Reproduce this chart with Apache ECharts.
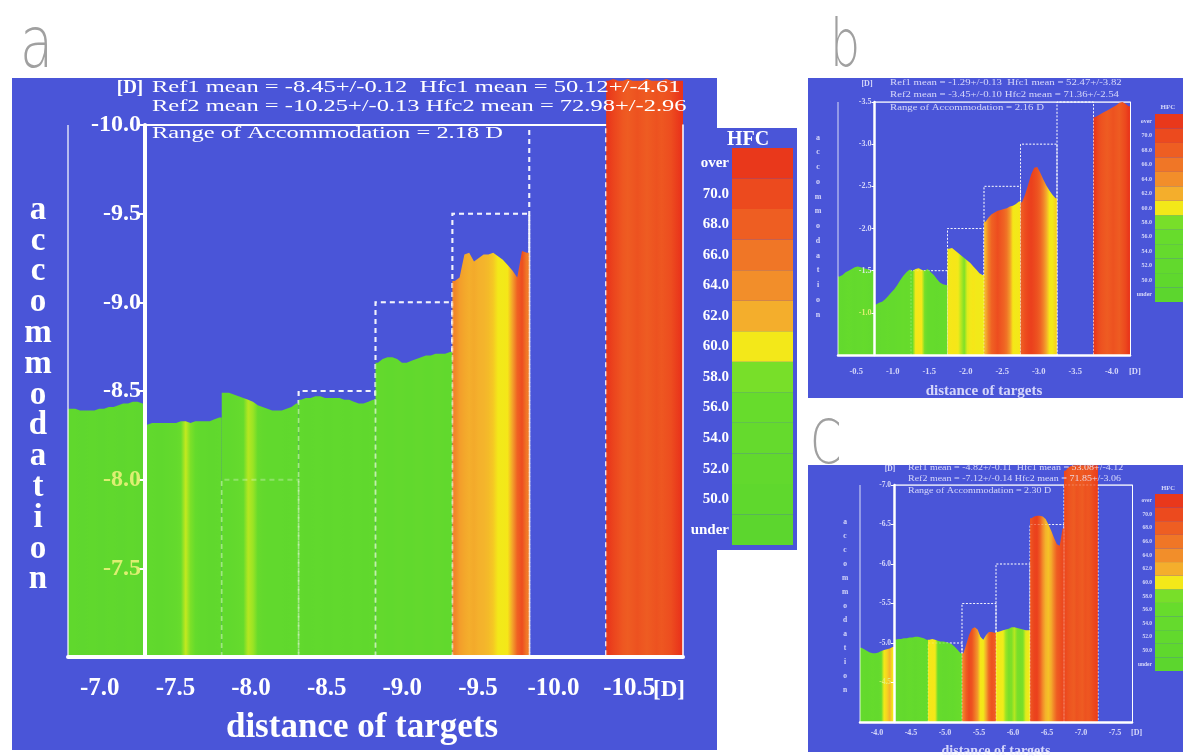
<!DOCTYPE html>
<html><head><meta charset="utf-8">
<script src="https://cdn.jsdelivr.net/npm/echarts@6/dist/echarts.min.js"></script>
<style>html,body{margin:0;padding:0;background:#fff}#c{width:1183px;height:756px}</style>
</head><body><div id="c"></div><script>
// ---------------- DATA ----------------
const targetsA = ['-7.0','-7.5','-8.0','-8.5','-9.0','-9.5','-10.0','-10.5'];
const targetsB = ['-0.5','-1.0','-1.5','-2.0','-2.5','-3.0','-3.5','-4.0'];
const targetsC = ['-4.0','-4.5','-5.0','-5.5','-6.0','-6.5','-7.0','-7.5'];
const rangeA = [-10, -7];
const rangeB = [-3.5, -0.5];
const rangeC = [-7, -4];
const stepSegs = [2, 3, 4, 5, 6];

const accA = [
 [-8.40,-8.40,-8.39,-8.39,-8.39,-8.39,-8.40,-8.40,-8.41,-8.41,-8.42,-8.43,-8.43,-8.44,-8.44,-8.43],
 [-8.31,-8.32,-8.32,-8.32,-8.32,-8.32,-8.32,-8.33,-8.33,-8.32,-8.33,-8.33,-8.33,-8.33,-8.34,-8.35],
 [-8.49,-8.49,-8.48,-8.47,-8.46,-8.45,-8.44,-8.42,-8.41,-8.40,-8.39,-8.39,-8.39,-8.40,-8.41,-8.43],
 [-8.45,-8.46,-8.46,-8.47,-8.47,-8.46,-8.46,-8.46,-8.46,-8.45,-8.45,-8.44,-8.43,-8.43,-8.44,-8.45],
 [-8.66,-8.68,-8.69,-8.69,-8.68,-8.66,-8.66,-8.67,-8.68,-8.69,-8.70,-8.70,-8.71,-8.71,-8.71,-8.72],
 [-9.12,-9.14,-9.27,-9.28,-9.23,-9.25,-9.27,-9.27,-9.28,-9.26,-9.24,-9.21,-9.18,-9.14,-9.29,-9.28],
 [],
 [-10.25,-10.26,-10.25,-10.25,-10.26,-10.25,-10.25,-10.25,-10.26,-10.25,-10.25,-10.25,-10.26,-10.25,-10.25,-10.25]
];
const hfcA = [
 [51,51,50,50,51,51,50,50,51,51,50,50,51,51,50,50],
 [52,52,51,51,52,53,54,57,59.3,58.6,55,52,52,51,51,52],
 [52,52,53,54,56,59.2,59.0,56,53,52,52,52,52,51,52,52],
 [52,51,51,52,52,51,51,52,52,51,51,52,52,51,51,52],
 [53,53,52,52,53,53,52,52,53,53,52,52,53,53,52,52],
 [65.5,63.8,63.2,62.8,63,62.6,62.4,62.2,61.8,60.6,60.4,60.8,63.5,68.5,70.5,66.5],
 [],
 [73,71.5,70.5,69.5,69,69.5,70,69.5,69,69.5,70,69.5,70,70.5,72,73.5]
];
const accB = [
 [-1.43,-1.45,-1.48,-1.50,-1.52,-1.54,-1.55,-1.54,-1.53,-1.52,-1.51,-1.50],
 [-1.10,-1.12,-1.13,-1.16,-1.20,-1.24,-1.28,-1.33,-1.39,-1.44,-1.48,-1.51],
 [-1.50,-1.52,-1.53,-1.51,-1.50,-1.52,-1.48,-1.45,-1.40,-1.36,-1.34,-1.33],
 [-1.76,-1.77,-1.74,-1.71,-1.68,-1.65,-1.62,-1.59,-1.55,-1.51,-1.47,-1.45],
 [-2.08,-2.13,-2.17,-2.19,-2.21,-2.22,-2.23,-2.24,-2.26,-2.27,-2.29,-2.32],
 [-2.31,-2.40,-2.52,-2.64,-2.72,-2.73,-2.66,-2.58,-2.51,-2.45,-2.40,-2.36],
 [],
 [-3.32,-3.34,-3.36,-3.38,-3.40,-3.42,-3.44,-3.46,-3.49,-3.50,-3.48,-3.45]
];
const hfcB = [
 [54,53,54,55,54,53,54,54,55,54,53,54],
 [53,53,54,54,55,54,54,55,55,56,55,56],
 [56,60.5,61,60.5,58,56,55,55,54,55,55,56],
 [60.5,61,61,60.5,59.2,58.8,59.5,60.5,61,60.5,60.5,60],
 [62.5,66,68.5,69.5,70.5,69.5,68.5,67,64,61,60.5,61],
 [69,70.5,71.5,72,71,70,68.5,66,63,61,60.5,61.5],
 [],
 [73,71,70,69.5,69,69.5,70,69.5,69,70,71,73]
];
const accC = [
 [-4.94,-4.92,-4.90,-4.88,-4.87,-4.87,-4.88,-4.90,-4.91,-4.92,-4.93,-4.95],
 [-5.04,-5.05,-5.05,-5.06,-5.06,-5.07,-5.07,-5.08,-5.08,-5.07,-5.06,-5.04],
 [-5.04,-5.05,-5.04,-5.03,-5.02,-5.02,-5.01,-5.00,-4.98,-4.95,-4.91,-4.87],
 [-4.87,-4.98,-5.10,-5.18,-5.20,-5.17,-5.08,-5.04,-5.10,-5.14,-5.14,-5.13],
 [-5.14,-5.15,-5.16,-5.17,-5.18,-5.20,-5.20,-5.19,-5.18,-5.17,-5.16,-5.16],
 [-6.58,-6.60,-6.61,-6.61,-6.60,-6.57,-6.50,-6.42,-6.33,-6.25,-6.23,-6.45],
 [-7.18,-7.22,-7.24,-7.25,-7.25,-7.25,-7.25,-7.25,-7.25,-7.25,-7.25,-7.25],
 []
];
const hfcC = [
 [54,54,53,54,55,54,54,56,60.5,61.5,62.5,61],
 [54,55,54,53,54,55,54,53,54,55,54,55],
 [60.5,61,60.5,57,55,54,54,55,54,55,56,57],
 [66,69,71,70,67,64,61,60.5,63,68,70,69],
 [61,60.5,60,59,58.5,58.8,59.2,58.5,58,58.5,59.5,60.5],
 [70,71.5,72,69,65,62.5,62,63,66,69,70,71],
 [71,70,69.5,69,70,69.5,69,70,69.5,70,71,72],
 []
];
const hfcBins = ['under','50.0','52.0','54.0','56.0','58.0','60.0','62.0','64.0','66.0','68.0','70.0','over'];
const hfcBinValues = [48,50.5,52.5,54.5,56.5,58.3,60.6,62.8,64.8,66.8,68.8,70.8,73];
const statsA = ['Ref1 mean = -8.45+/-0.12  Hfc1 mean = 50.12+/-4.61',
                'Ref2 mean = -10.25+/-0.13 Hfc2 mean = 72.98+/-2.96',
                'Range of Accommodation = 2.18 D'];
const statsB = ['Ref1 mean = -1.29+/-0.13  Hfc1 mean = 52.47+/-3.82',
                'Ref2 mean = -3.45+/-0.10 Hfc2 mean = 71.36+/-2.54',
                'Range of Accommodation = 2.16 D'];
const statsC = ['Ref1 mean = -4.82+/-0.11  Hfc1 mean = 53.08+/-4.12',
                'Ref2 mean = -7.12+/-0.14 Hfc2 mean = 71.85+/-3.06',
                'Range of Accommodation = 2.30 D'];
const yTitle = 'accommodation';
const xTitle = 'distance of targets';

// ---------------- STYLE ----------------
const BLUE = '#4a55d8';
const SERIF = '"Liberation Serif","DejaVu Serif",serif';
const hfcStops = [[48,[92,214,46]],[57,[104,220,44]],[58.8,[126,224,40]],[59.6,[236,238,26]],
  [61.0,[246,230,24]],[62.4,[244,180,44]],[64.5,[242,146,42]],[67,[240,116,38]],
  [69,[238,92,34]],[71,[236,72,30]],[74,[232,48,26]]];
function rgb(a){return 'rgb('+a.map(Math.round).join(',')+')';}
function hfcColor(h){
  const s = hfcStops;
  if (h <= s[0][0]) return rgb(s[0][1]);
  for (let i=1;i<s.length;i++){
    if (h <= s[i][0]){
      const t=(h-s[i-1][0])/(s[i][0]-s[i-1][0]);
      const a=s[i-1][1], b=s[i][1];
      return rgb(a.map((c,k)=>c+(b[k]-c)*t));
    }
  }
  return rgb(s[s.length-1][1]);
}

const panels = [
 {targets:targetsA, range:rangeA, acc:accA, hfc:hfcA, stats:statsA, letter:'a',
  grid:{left:68,top:125,width:615,height:532}, labelGrid:{left:62,top:125,width:605,height:532},
  cbar:{left:732,top:148,width:61,height:397}, bg:[[12,78,705,672],[690,128,107,422]],
  fs:{tick:24,xl:25,xD:23,title:35,stat:17,letter:33,cb:15,hfc:20,D:19,big:72},
  statScale:1.44,
  axisW:4, frameW:1.5, dashW:2, dash:5, tickLen:7, tickW:2, tickMargin:4, xMargin:19, cbMargin:3,
  titlePos:[362,728], letterPos:[38,395], letterGap:30.8, statX:152, statY:[88,107,134],
  dPos:[130,88], xDPos:[653,690], hfcPos:[748,140], bigPos:[20,48], bigScale:0.75, txtCol:'#ffffff'},
 {targets:targetsB, range:rangeB, acc:accB, hfc:hfcB, stats:statsB, letter:'b',
  grid:{left:838,top:102,width:292,height:253}, labelGrid:{left:838,top:102,width:292,height:253},
  cbar:{left:1155,top:114,width:28,height:188}, bg:[[808,78,375,320]],
  fs:{tick:8,xl:8.5,xD:8.5,title:15,stat:8.8,letter:8,cb:6,hfc:7,D:8,big:66},
  statScale:1.22,
  axisW:2.5, frameW:1, dashW:1, dash:2, tickLen:3, tickW:1, tickMargin:3, xMargin:12, cbMargin:3,
  titlePos:[984,391], letterPos:[818,226], letterGap:14.75, statX:890, statY:[83,95,108],
  dPos:[867,84], xDPos:[1129,372], hfcPos:[1168,107], bigPos:[830,49], bigScale:0.72, txtCol:'rgba(236,236,255,0.85)'},
 {targets:targetsC, range:rangeC, acc:accC, hfc:hfcC, stats:statsC, letter:'C',
  grid:{left:860,top:485,width:272,height:237}, labelGrid:{left:860,top:485,width:272,height:237},
  cbar:{left:1155,top:494,width:28,height:177}, bg:[[808,465,375,287]],
  fs:{tick:7.5,xl:8,xD:8,title:14,stat:8.2,letter:7.5,cb:5.5,hfc:6.5,D:7.5,big:60},
  statScale:1.22,
  axisW:2.5, frameW:1, dashW:1, dash:2, tickLen:3, tickW:1, tickMargin:3, xMargin:7, cbMargin:3,
  titlePos:[996,751], letterPos:[845,606], letterGap:14, statX:908, statY:[468,479,491],
  dPos:[890,469], xDPos:[1131,733], hfcPos:[1168,488], bigPos:[810,447], bigScale:0.75, txtCol:'rgba(236,236,255,0.85)'}
];

// ---------------- BUILD ----------------
const option = {animation:false, backgroundColor:'#ffffff', grid:[], xAxis:[], yAxis:[], series:[], graphic:{elements:[]}};
const G = option.graphic.elements;
const noAxis = {axisLine:{show:false}, axisTick:{show:false}, axisLabel:{show:false}, splitLine:{show:false}};

panels.forEach(P => {
  const gi = option.grid.length;
  const xi = option.xAxis.length;
  const yi = option.yAxis.length;
  const top = P.range[0], base = P.range[1];
  const segW = P.grid.width / P.targets.length;
  const axisGrid = {left:P.grid.left + segW, top:P.grid.top, width:P.grid.width - segW, height:P.grid.height};
  option.grid.push(P.grid, P.labelGrid, P.cbar, axisGrid);

  // grid gi: plot (x xi, y yi data, y yi+1 right frame)
  option.xAxis.push({gridIndex:gi, type:'value', min:-1, max:7, z:5,
    axisLine:{show:true,onZero:false,lineStyle:{color:'#fff',width:P.axisW}},
    axisTick:{show:false}, axisLabel:{show:false}, splitLine:{show:false}});
  option.yAxis.push(Object.assign({gridIndex:gi, type:'value', inverse:true, min:top, max:base}, noAxis));
  option.yAxis.push({gridIndex:gi, type:'value', inverse:true, min:top, max:base, position:'right', z:5,
    axisLine:{show:true,onZero:false,lineStyle:{color:'#fff',width:P.frameW}},
    axisTick:{show:false}, axisLabel:{show:false}, splitLine:{show:false}});

  // grid gi+1: target labels (x xi+1, y yi+2)
  option.xAxis.push({gridIndex:gi+1, type:'category', data:P.targets, boundaryGap:true,
    axisLine:{show:false}, axisTick:{show:false},
    axisLabel:{color:P.txtCol, fontFamily:SERIF, fontWeight:'bold', fontSize:P.fs.xl, margin:P.xMargin, interval:0}});
  option.yAxis.push({gridIndex:gi+1, type:'value', show:false});

  // grid gi+2: colour bar (x xi+2, y yi+3)
  option.xAxis.push({gridIndex:gi+2, type:'value', min:0, max:1, show:false});
  option.yAxis.push({gridIndex:gi+2, type:'category', data:hfcBins,
    axisLine:{show:false}, axisTick:{show:false},
    axisLabel:{color:P.txtCol, fontFamily:SERIF, fontWeight:'bold', fontSize:P.fs.cb, margin:P.cbMargin, interval:0}});

  // grid gi+3: accommodation axis (x xi+3, y yi+4)
  const seg0Top = Math.max(...P.acc[0]);
  option.xAxis.push(Object.assign({gridIndex:gi+3, type:'value', min:0, max:1}, noAxis));
  option.yAxis.push({gridIndex:gi+3, type:'value', inverse:true, min:top, max:base, interval:0.5, z:10, position:'left',
    axisLine:{show:true,onZero:false,lineStyle:{color:'#fff',width:P.axisW}},
    axisTick:{show:true,length:P.tickLen,lineStyle:{color:'#fff',width:P.tickW}},
    splitLine:{show:false},
    axisLabel:{margin:P.tickMargin, fontFamily:SERIF, fontWeight:'bold', fontSize:P.fs.tick,
      formatter:v => (v === base ? '' : v.toFixed(1)),
      color:(v) => (parseFloat(v) > seg0Top ? 'rgba(228,240,118,0.95)' : P.txtCol)}});

  const segs = P.targets.map((t,i)=>[i]);
  const steps = stepSegs.map(i => [i, parseFloat(P.targets[i])]);

  const stairRender = (op) => (params, api) => {
    const s = api.value(0), t = api.value(1);
    return {type:'polyline', shape:{points:[api.coord([s-1,base]),api.coord([s-1,t]),api.coord([s,t]),api.coord([s,base])]},
      style:{stroke:'#ffffff', lineWidth:P.dashW, lineDash:[P.dash,P.dash*0.8], fill:null, opacity:op}};
  };
  option.series.push({type:'custom', xAxisIndex:xi, yAxisIndex:yi, data:steps, z:1, silent:true, clip:false,
    renderItem:stairRender(0.9)});
  option.series.push({type:'line', xAxisIndex:xi, yAxisIndex:yi, data:[[0,top],[7,top]], z:1, silent:true,
    symbol:'none', lineStyle:{color:'#fff', width:P.axisW*0.55}});
  option.series.push({type:'line', xAxisIndex:xi, yAxisIndex:yi, data:[[-1,top],[-1,base]], z:4, silent:true,
    symbol:'none', lineStyle:{color:'#fff', width:P.frameW, opacity:0.8}});
  option.series.push({type:'custom', xAxisIndex:xi, yAxisIndex:yi, data:segs, z:2, silent:true, clip:false,
    renderItem:(params, api) => {
      const s = api.value(0);
      const a = P.acc[s], h = P.hfc[s];
      if (!a || !a.length) return;
      const n = a.length, x0 = s - 1;
      const pts = [api.coord([x0, base]), api.coord([x0, a[0]])];
      for (let j=0;j<n;j++) pts.push(api.coord([x0+(j+0.5)/n, a[j]]));
      pts.push(api.coord([x0+1, a[n-1]]));
      pts.push(api.coord([x0+1, base]));
      const stops = h.map((v,j)=>({offset:(j+0.5)/n, color:hfcColor(v)}));
      return {type:'polygon', shape:{points:pts},
        style:{fill:new echarts.graphic.LinearGradient(0,0,1,0,stops)}};
    }});
  option.series.push({type:'custom', xAxisIndex:xi, yAxisIndex:yi, data:steps, z:3, silent:true, clip:false,
    renderItem:stairRender(0.28)});
  option.series.push({type:'bar', xAxisIndex:xi+2, yAxisIndex:yi+3, barCategoryGap:'0%', silent:true,
    data:hfcBinValues.map(v => ({value:1, itemStyle:{color:hfcColor(v)}}))});

  // graphics
  P.bg.forEach(r => G.push({type:'rect', shape:{x:r[0],y:r[1],width:r[2],height:r[3]}, style:{fill:BLUE}, z:-10, silent:true}));
  G.push({type:'text', x:P.bigPos[0], y:P.bigPos[1], scaleX:P.bigScale, z:100, silent:true,
    style:{text:P.letter, fill:'#a0a0a0', font:'300 '+P.fs.big+'px "DejaVu Sans",sans-serif', textAlign:'left', textVerticalAlign:'middle'}});
  G.push({type:'text', x:P.dPos[0], y:P.dPos[1], z:100, silent:true,
    style:{text:'[D]', fill:P.txtCol, font:'bold '+P.fs.D+'px '+SERIF, textAlign:'center', textVerticalAlign:'middle'}});
  P.stats.forEach((s,k) => G.push({type:'text', x:P.statX, y:P.statY[k], scaleX:P.statScale, z:100, silent:true,
    style:{text:s, fill:P.txtCol, font:P.fs.stat+'px '+SERIF, textAlign:'left', textVerticalAlign:'middle'}}));
  G.push({type:'text', x:P.xDPos[0], y:P.xDPos[1], z:100, silent:true,
    style:{text:'[D]', fill:P.txtCol, font:'bold '+P.fs.xD+'px '+SERIF, textAlign:'left', textVerticalAlign:'middle'}});
  G.push({type:'text', x:P.titlePos[0], y:P.titlePos[1], z:100, silent:true,
    style:{text:xTitle, fill:P.txtCol, font:'bold '+P.fs.title+'px '+SERIF, textAlign:'center', textVerticalAlign:'middle'}});
  G.push({type:'text', x:P.letterPos[0], y:P.letterPos[1], z:100, silent:true,
    style:{text:yTitle.split('').join('\n'), fill:P.txtCol, font:'bold '+P.fs.letter+'px '+SERIF,
      lineHeight:P.letterGap, textAlign:'center', textVerticalAlign:'middle'}});
  G.push({type:'text', x:P.hfcPos[0], y:P.hfcPos[1], z:100, silent:true,
    style:{text:'HFC', fill:P.txtCol, font:'bold '+P.fs.hfc+'px '+SERIF, textAlign:'center', textVerticalAlign:'middle'}});
});

const chart = echarts.init(document.getElementById('c'), null, {renderer:'canvas'});
chart.setOption(option);
</script></body></html>
